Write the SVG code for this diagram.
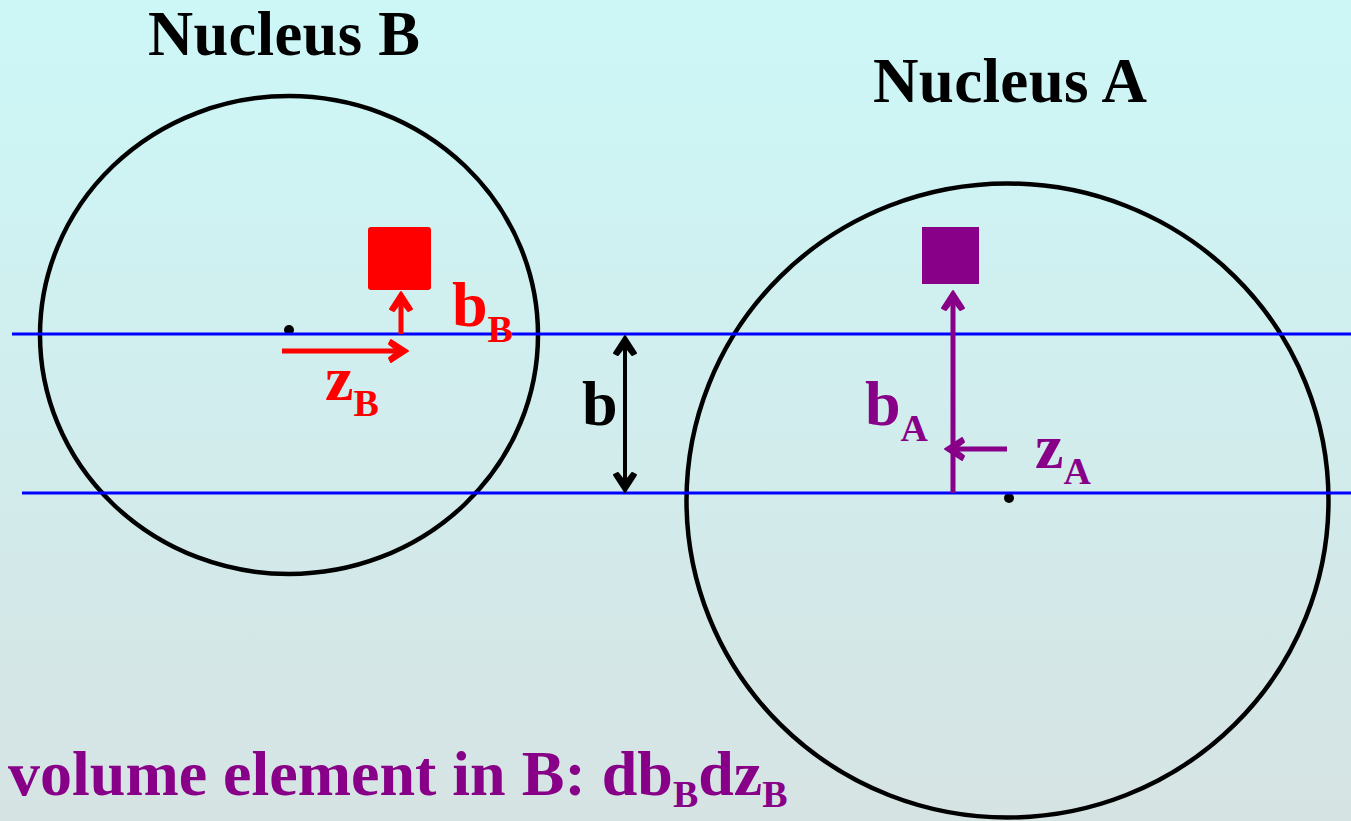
<svg xmlns="http://www.w3.org/2000/svg" width="1351" height="821" viewBox="0 0 1351 821">
<defs>
<linearGradient id="bg" x1="0" y1="0" x2="0" y2="1">
<stop offset="0" stop-color="#cdf7f7"/>
<stop offset="1" stop-color="#d6e3e3"/>
</linearGradient>
<path id="ah" d="M0,0 L-17,-11 L-19,-7 L-10,0 L-19,7 L-17,11 Z" stroke-width="2" stroke-linejoin="round"/>
</defs>
<style>
.t{font-family:"Liberation Serif","Times New Roman",serif;font-weight:bold}
.nuc{fill:none;stroke:#000;stroke-width:4.5}
.blue{stroke:#0000ff;stroke-width:3}
.red{stroke:#ff0000;fill:none;stroke-width:5}
.pur{stroke:#880088;fill:none;stroke-width:5}
.blk{stroke:#000;fill:none;stroke-width:4}
</style>
<rect width="1351" height="821" fill="url(#bg)"/>
<g id="nucleusB">
<ellipse class="nuc" cx="289" cy="335" rx="249" ry="239"/>
<circle cx="289" cy="330" r="5" fill="#000"/>
<text class="t" x="148" y="55" font-size="62.5" fill="#000" textLength="272">Nucleus B</text>
</g>
<g id="nucleusA">
<ellipse class="nuc" cx="1007.5" cy="500.5" rx="321" ry="317"/>
<circle cx="1009" cy="498" r="5" fill="#000"/>
<text class="t" x="873" y="102" font-size="63" fill="#000" textLength="274">Nucleus A</text>
</g>
<g id="lines">
<line class="blue" x1="12" y1="334" x2="1351" y2="334"/>
<line class="blue" x1="22" y1="493" x2="1351" y2="493"/>
</g>
<g id="elementB">
<rect x="368" y="227" width="63" height="63" rx="3" fill="#ff0000"/>
<text class="t" x="452" y="326" font-size="64" fill="#ff0000">b<tspan font-size="38" dy="16">B</tspan></text>
<text class="t" x="325" y="400" font-size="64" fill="#ff0000">z<tspan font-size="38" dy="16">B</tspan></text>
</g>
<g id="elementA">
<rect x="922" y="227" width="57" height="57" fill="#880088"/>
<text class="t" x="865" y="425" font-size="64" fill="#880088">b<tspan font-size="38" dy="16">A</tspan></text>
<text class="t" x="1035" y="468" font-size="64" fill="#880088">z<tspan font-size="38" dy="16">A</tspan></text>
</g>
<g id="separation">
<text class="t" x="582" y="425" font-size="64" fill="#000">b</text>
</g>
<g id="connectors">
<line class="red" x1="401" y1="334" x2="401" y2="300"/>
<use href="#ah" fill="#ff0000" stroke="#ff0000" transform="translate(401,292) rotate(-90)"/>
<line class="red" x1="282" y1="351" x2="398" y2="351" stroke-width="6"/>
<use href="#ah" fill="#ff0000" stroke="#ff0000" transform="translate(408,351)"/>
<line class="pur" x1="953" y1="493" x2="953" y2="300"/>
<use href="#ah" fill="#880088" stroke="#880088" transform="translate(953,291) rotate(-90)"/>
<line class="pur" x1="1007" y1="449" x2="954" y2="449"/>
<use href="#ah" fill="#880088" stroke="#880088" transform="translate(945,449) rotate(180)"/>
<line class="blk" x1="625" y1="344" x2="625" y2="484"/>
<use href="#ah" fill="#000" stroke="#000" transform="translate(625,336) rotate(-90)"/>
<use href="#ah" fill="#000" stroke="#000" transform="translate(625,492) rotate(90)"/>
</g>
<text class="t" x="8" y="795" font-size="64" fill="#880088">volume element in B: db<tspan font-size="38" dy="12">B</tspan><tspan dy="-12">dz</tspan><tspan font-size="38" dy="12">B</tspan></text>
</svg>
